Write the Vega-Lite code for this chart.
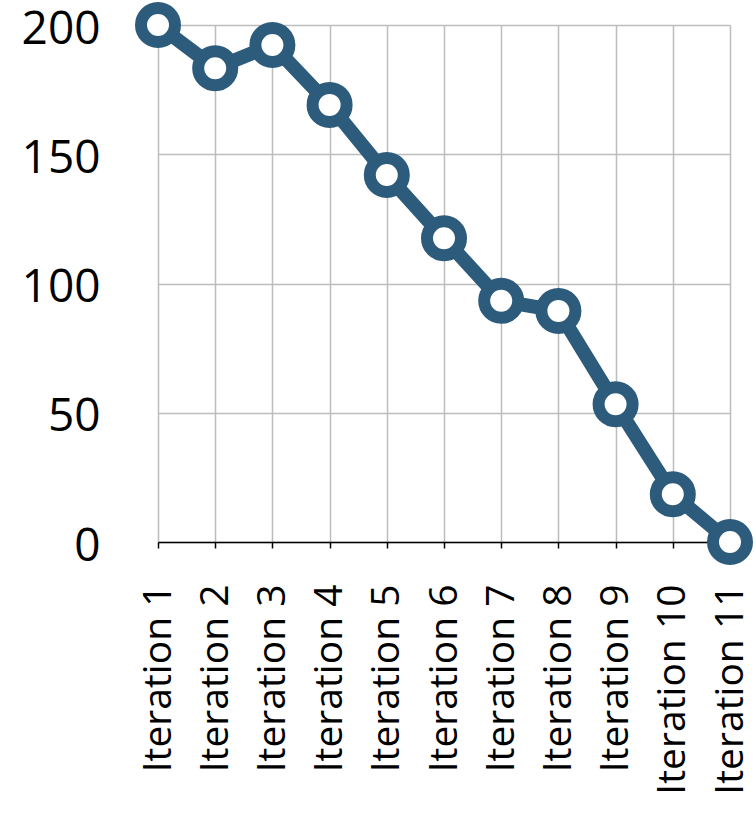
{
  "$schema": "https://vega.github.io/schema/vega-lite/v6.json",
  "autosize": "none",
  "width": 572,
  "height": 517,
  "padding": {"left": 158, "top": 25, "right": 26, "bottom": 287},
  "background": "white",
  "config": {
    "view": {"stroke": null},
    "font": "Open Sans"
  },
  "data": {
    "values": [
      {"iteration": "Iteration 1", "value": 200},
      {"iteration": "Iteration 2", "value": 183.3},
      {"iteration": "Iteration 3", "value": 192.3},
      {"iteration": "Iteration 4", "value": 169.1},
      {"iteration": "Iteration 5", "value": 142},
      {"iteration": "Iteration 6", "value": 117.5},
      {"iteration": "Iteration 7", "value": 93.3},
      {"iteration": "Iteration 8", "value": 89.4},
      {"iteration": "Iteration 9", "value": 53.3},
      {"iteration": "Iteration 10", "value": 18.5},
      {"iteration": "Iteration 11", "value": 0}
    ]
  },
  "encoding": {
    "x": {
      "field": "iteration",
      "type": "ordinal",
      "sort": null,
      "scale": {"type": "point", "padding": 0},
      "axis": {
        "title": null,
        "labelAngle": -90,
        "labelFont": "Open Sans",
        "labelFontSize": 39,
        "labelColor": "black",
        "labelPadding": 36,
        "labelLimit": 0,
        "domainColor": "black",
        "domainWidth": 1.5,
        "tickColor": "black",
        "tickWidth": 1.5,
        "tickSize": 6,
        "grid": true,
        "gridColor": "#BDBDBD",
        "gridWidth": 1.5,
        "labelOverlap": false
      }
    },
    "y": {
      "field": "value",
      "type": "quantitative",
      "scale": {"domain": [0, 200], "nice": false, "zero": true},
      "axis": {
        "title": null,
        "values": [0, 50, 100, 150, 200],
        "domain": false,
        "ticks": false,
        "labelFont": "Open Sans",
        "labelFontSize": 46,
        "labelColor": "black",
        "labelPadding": 58,
        "labelOffset": 4,
        "gridColor": "#BDBDBD",
        "gridWidth": 1.5
      }
    }
  },
  "layer": [
    {
      "mark": {"type": "line", "color": "#2D5B7B", "strokeWidth": 14, "clip": false}
    },
    {
      "mark": {
        "type": "point",
        "shape": "circle",
        "size": 1156,
        "filled": true,
        "fill": "white",
        "stroke": "#2D5B7B",
        "strokeWidth": 12,
        "opacity": 1,
        "clip": false
      }
    }
  ]
}
